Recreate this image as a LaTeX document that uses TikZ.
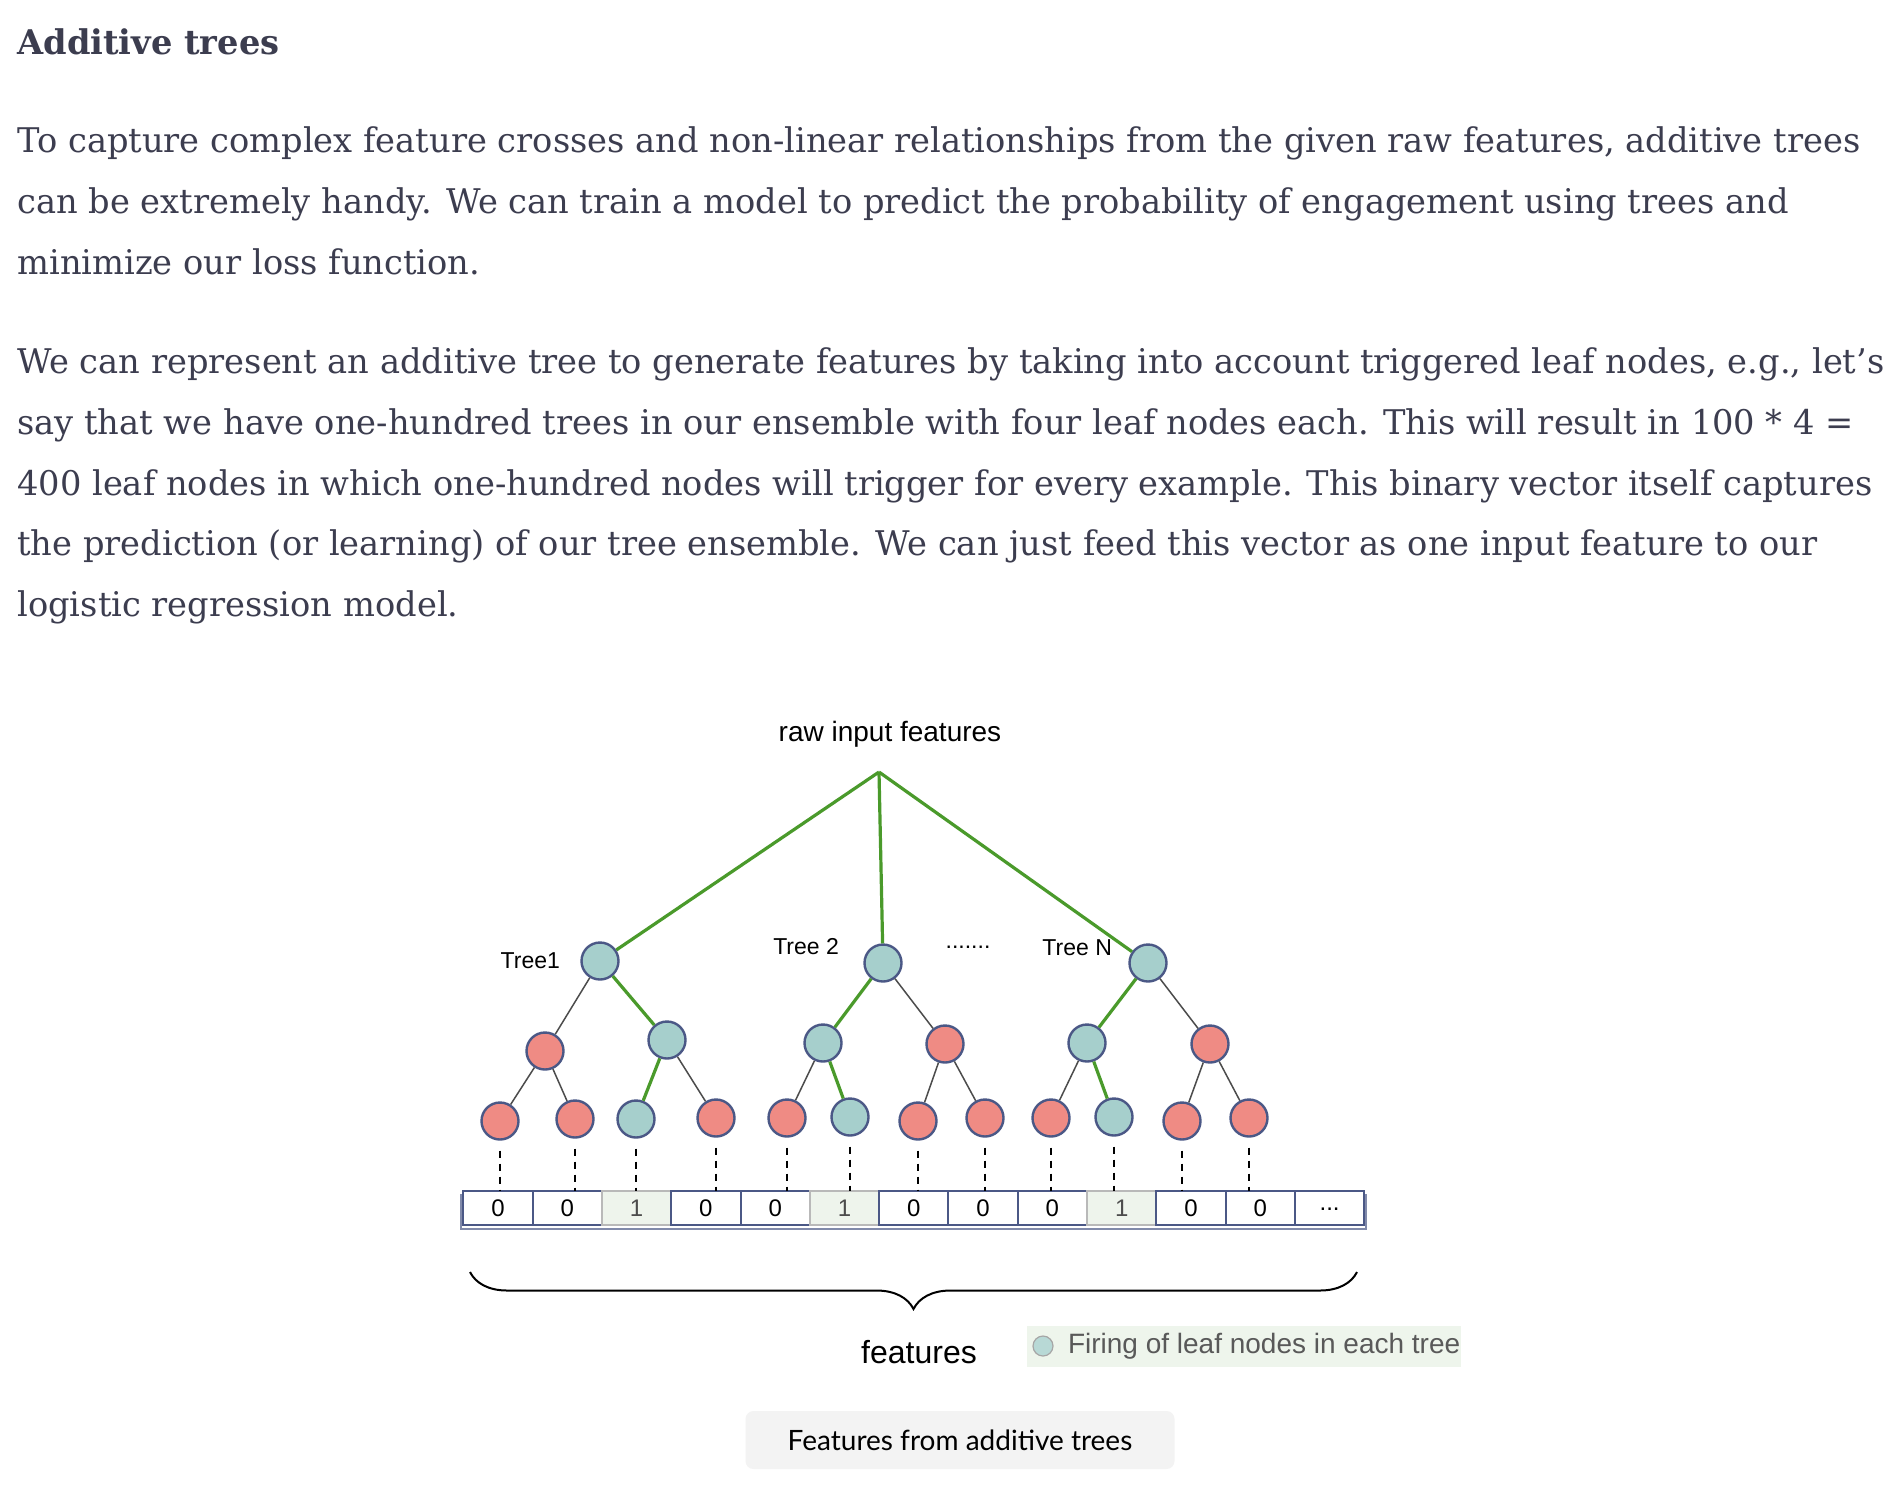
\documentclass[tikz,border=0pt]{standalone}
\usepackage{fontspec}
\setmainfont{Liberation Sans}
\newfontfamily\bodyfont[FakeStretch=0.99]{DejaVu Serif}
\newfontfamily\capfont{Lato}
\usetikzlibrary{positioning,decorations.pathreplacing}

\definecolor{ink}{HTML}{3C3D4F}
\definecolor{firedfill}{HTML}{A6CFCC}
\definecolor{idlefill}{HTML}{EF8B84}
\definecolor{rim}{HTML}{4B5886}
\definecolor{pathgreen}{HTML}{4A9A2B}
\definecolor{hotcellfill}{HTML}{EEF4EC}
\definecolor{legendbg}{HTML}{EEF5EC}
\definecolor{capbg}{HTML}{F3F3F3}

\begin{document}
\begin{tikzpicture}[
  x=0.5pt,y=-0.5pt,
  fired/.style={draw=rim,fill=firedfill,circle,line width=1.2pt,minimum size=18.5pt,inner sep=0pt},
  idle/.style={fired,fill=idlefill},
  cell/.style={draw=rim,line width=1pt,fill=white,minimum width=34.65pt,minimum height=17pt,inner sep=0pt,outer sep=0pt,font=\fontsize{12}{14}\selectfont},
  hotcell/.style={cell,draw=gray!55,fill=hotcellfill,text=black!70},
  treelabel/.style={inner sep=0pt,font=\fontsize{11.5}{14}\selectfont},
  textline/.style={anchor=base west,inner sep=0pt,text=ink,font=\bodyfont\fontsize{17}{20}\selectfont},
  leafdash/.style={draw=black,line width=1pt,dash pattern=on 3.5pt off 3pt},
  every edge/.style={draw=black!70,line width=0.75pt},
  hot/.style={draw=pathgreen,line width=1.6pt},
]
  \fill[white] (0,0) rectangle (1896,1496);

  % Text above the figure
  \node[textline,font=\bodyfont\bfseries\fontsize{17}{20}\selectfont] (head) at (17,54) {Additive trees};
  \node[textline] (p1a) at (17,152) {To capture complex feature crosses and non-linear relationships from the given raw features, additive trees};
  \node[textline] (p1b) at (17,213) {can be extremely handy. We can train a model to predict the probability of engagement using trees and};
  \node[textline] (p1c) at (17,274) {minimize our loss function.};
  \node[textline] (p2a) at (17,373) {We can represent an additive tree to generate features by taking into account triggered leaf nodes, e.g., let’s};
  \node[textline] (p2b) at (17,434) {say that we have one-hundred trees in our ensemble with four leaf nodes each. This will result in 100 * 4 =};
  \node[textline] (p2c) at (17,495) {400 leaf nodes in which one-hundred nodes will trigger for every example. This binary vector itself captures};
  \node[textline] (p2d) at (17,555) {the prediction (or learning) of our tree ensemble. We can just feed this vector as one input feature to our};
  \node[textline] (p2e) at (17,616) {logistic regression model.};

  % Input
  \node[inner sep=0pt,font=\fontsize{14}{16}\selectfont] (raw) at (890,734) {raw input features};
  \coordinate (apex) at (879,772);

  % Tree 1
  \node[fired] (t1) at (600,961) {};
  \node[idle]  (t1l) at (545,1051) {};
  \node[fired] (t1r) at (667,1040) {};
  \node[idle]  (t1ll) at (500,1121) {};
  \node[idle]  (t1lr) at (575,1119) {};
  \node[fired] (t1rl) at (636,1119) {};
  \node[idle]  (t1rr) at (716,1118) {};
  \node[treelabel,left=10pt of t1] (lab1) {Tree1};

  % Tree 2
  \node[fired] (t2) at (883,963) {};
  \node[fired] (t2l) at (823,1043) {};
  \node[idle]  (t2r) at (945,1044) {};
  \node[idle]  (t2ll) at (787,1118) {};
  \node[fired] (t2lr) at (850,1117) {};
  \node[idle]  (t2rl) at (918,1121) {};
  \node[idle]  (t2rr) at (985,1118) {};
  \node[treelabel,left=12pt of t2,yshift=8pt] (lab2) {Tree 2};
  \node[treelabel] (more) at (968,947) {.......};

  % Tree N
  \node[fired] (tn) at (1148,963) {};
  \node[fired] (tnl) at (1087,1043) {};
  \node[idle]  (tnr) at (1210,1044) {};
  \node[idle]  (tnll) at (1051,1118) {};
  \node[fired] (tnlr) at (1114,1117) {};
  \node[idle]  (tnrl) at (1182,1121) {};
  \node[idle]  (tnrr) at (1249,1118) {};
  \node[treelabel,left=8pt of tn,yshift=7.5pt] (labn) {Tree N};

  % Edges: input to roots
  \path (apex) edge[hot] (t1);
  \path (apex) edge[hot] (t2);
  \path (apex) edge[hot] (tn);

  % Edges: splits
  \path (t1) edge (t1l);
  \path (t1) edge[hot] (t1r);
  \path (t1l) edge (t1ll);
  \path (t1l) edge (t1lr);
  \path (t1r) edge[hot] (t1rl);
  \path (t1r) edge (t1rr);

  \path (t2) edge[hot] (t2l);
  \path (t2) edge (t2r);
  \path (t2l) edge (t2ll);
  \path (t2l) edge[hot] (t2lr);
  \path (t2r) edge (t2rl);
  \path (t2r) edge (t2rr);

  \path (tn) edge[hot] (tnl);
  \path (tn) edge (tnr);
  \path (tnl) edge (tnll);
  \path (tnl) edge[hot] (tnlr);
  \path (tnr) edge (tnrl);
  \path (tnr) edge (tnrr);

  % Feature vector
  \draw[rim!70,line width=0.6pt] (461,1195) rectangle (1366,1229);
  \node[cell] (c1) at (498,1208) {0};
  \node[cell,right=0pt of c1] (c2) {0};
  \node[hotcell,right=0pt of c2] (c3) {1};
  \node[cell,right=0pt of c3] (c4) {0};
  \node[cell,right=0pt of c4] (c5) {0};
  \node[hotcell,right=0pt of c5] (c6) {1};
  \node[cell,right=0pt of c6] (c7) {0};
  \node[cell,right=0pt of c7] (c8) {0};
  \node[cell,right=0pt of c8] (c9) {0};
  \node[hotcell,right=0pt of c9] (c10) {1};
  \node[cell,right=0pt of c10] (c11) {0};
  \node[cell,right=0pt of c11] (c12) {0};
  \node[cell,right=0pt of c12] (c13) {\raisebox{-2pt}{...}};

  % Leaves to vector
  \draw[leafdash] ([yshift=-5pt]t1ll.south) -- (t1ll.south |- c1.north);
  \draw[leafdash] ([yshift=-5pt]t1lr.south) -- (t1lr.south |- c2.north);
  \draw[leafdash] ([yshift=-5pt]t1rl.south) -- (t1rl.south |- c3.north);
  \draw[leafdash] ([yshift=-5pt]t1rr.south) -- (t1rr.south |- c4.north);
  \draw[leafdash] ([yshift=-5pt]t2ll.south) -- (t2ll.south |- c5.north);
  \draw[leafdash] ([yshift=-5pt]t2lr.south) -- (t2lr.south |- c6.north);
  \draw[leafdash] ([yshift=-5pt]t2rl.south) -- (t2rl.south |- c7.north);
  \draw[leafdash] ([yshift=-5pt]t2rr.south) -- (t2rr.south |- c8.north);
  \draw[leafdash] ([yshift=-5pt]tnll.south) -- (tnll.south |- c9.north);
  \draw[leafdash] ([yshift=-5pt]tnlr.south) -- (tnlr.south |- c10.north);
  \draw[leafdash] ([yshift=-5pt]tnrl.south) -- (tnrl.south |- c11.north);
  \draw[leafdash] ([yshift=-5pt]tnrr.south) -- (tnrr.south |- c12.north);

  % Brace and legend
  \coordinate (braceL) at (470,1272);
  \coordinate (braceR) at (1357,1272);
  \draw[line width=1pt,decorate,decoration={brace,mirror,amplitude=18.5pt}] (braceL) -- (braceR);
  \node[inner sep=0pt,font=\fontsize{16}{18}\selectfont] (feat) at (919,1352) {features};

  \fill[legendbg] (1027,1326) rectangle (1461,1367);
  \node[circle,draw=gray!70,fill=firedfill!80,line width=0.6pt,minimum size=10pt,inner sep=0pt] (dot) at (1043,1346) {};
  \node[right=7pt of dot,inner sep=0pt,text=black!65,font=\fontsize{14}{16}\selectfont] (legend) {Firing of leaf nodes in each tree};

  % Caption
  \node[fill=capbg,rounded corners=4pt,minimum width=214.5pt,minimum height=29pt,font=\capfont\fontsize{14}{16}\selectfont] (cap) at (960,1440) {Features from additive trees};
\end{tikzpicture}
\end{document}
